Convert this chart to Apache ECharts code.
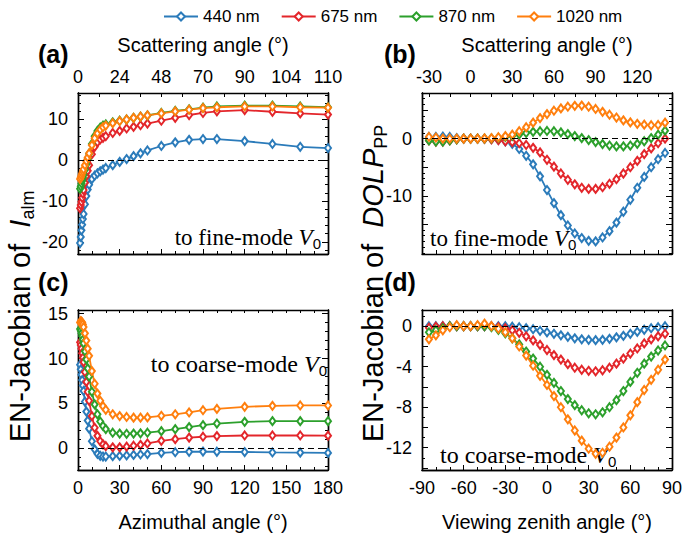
<!DOCTYPE html>
<html><head><meta charset="utf-8">
<script src="https://cdn.jsdelivr.net/npm/echarts@6/dist/echarts.min.js"></script>
<style>html,body{margin:0;padding:0;background:#fff}#c{width:687px;height:539px}</style>
</head><body><div id="c"></div>
<script>
// ---------------- DATA ----------------
const NAMES = ['440 nm', '675 nm', '870 nm', '1020 nm'];
const COLORS = ['#2b7bba', '#e3262b', '#2ca02c', '#ff7f0e'];

// azimuthal angles (panels a, c)
const AZ = [1.5, 2, 2.5, 3, 3.5, 4, 5, 6, 7, 8, 10, 12, 14, 16, 18, 20, 25, 30, 35, 40, 45, 50, 60, 70, 80, 90, 100, 120, 140, 160, 180];
// viewing zenith angles (panels b, d)
const VZA = [-85, -80, -75, -70, -65, -60, -55, -50, -45, -40, -35, -30, -25, -20, -15, -10, -5, 0, 5, 10, 15, 20, 25, 30, 35, 40, 45, 50, 55, 60, 65, 70, 75, 80, 85];

// (a) EN-Jacobian of I_alm to fine-mode V0
const A_440  = [-20.3, -18.8, -17.2, -15.8, -14.4, -13.2, -10.8, -8.8, -7.2, -6.0, -4.6, -3.8, -3.2, -2.7, -2.3, -1.9, -1.2, -0.4, 0.3, 1.0, 1.7, 2.4, 3.5, 4.4, 5.0, 5.2, 5.2, 4.7, 4.0, 3.3, 3.0];
const A_675  = [-11.8, -11.0, -10.2, -9.2, -8.2, -7.3, -5.5, -3.9, -2.6, -1.2, 1.5, 3.3, 4.4, 5.1, 5.5, 5.9, 6.7, 7.2, 7.8, 8.2, 8.6, 9.0, 9.7, 10.4, 11.1, 11.6, 12.0, 12.3, 11.9, 11.5, 11.2];
const A_870  = [-7.0, -6.4, -5.7, -5.0, -4.3, -3.6, -2.3, -1.0, 0.3, 1.6, 4.0, 5.9, 7.2, 8.0, 8.5, 8.8, 9.3, 9.7, 10.0, 10.4, 10.7, 11.0, 11.6, 12.1, 12.5, 12.9, 13.2, 13.4, 13.4, 13.2, 13.0];
const A_1020 = [-4.6, -4.2, -3.7, -3.2, -2.7, -2.2, -1.2, -0.2, 0.7, 1.7, 3.7, 5.4, 6.6, 7.5, 8.1, 8.5, 9.1, 9.6, 10.0, 10.4, 10.7, 11.0, 11.5, 12.0, 12.4, 12.8, 13.0, 13.2, 13.2, 13.0, 12.9];

// (c) EN-Jacobian of I_alm to coarse-mode V0
const C_440  = [9.3, 8.8, 8.2, 7.6, 7.0, 6.4, 5.2, 4.1, 3.1, 2.2, 0.8, -0.1, -0.6, -0.82, -0.9, -0.9, -0.86, -0.83, -0.78, -0.72, -0.67, -0.63, -0.5, -0.42, -0.37, -0.35, -0.37, -0.4, -0.45, -0.47, -0.5];
const C_675  = [11.8, 11.5, 11.1, 10.6, 10.1, 9.6, 8.5, 7.4, 6.3, 5.3, 3.6, 2.3, 1.4, 0.8, 0.45, 0.25, 0.12, 0.12, 0.2, 0.3, 0.4, 0.55, 0.85, 1.03, 1.2, 1.3, 1.37, 1.44, 1.44, 1.44, 1.42];
const C_870  = [13.3, 13.1, 12.8, 12.5, 12.1, 11.7, 10.8, 9.9, 8.9, 8.0, 6.3, 4.9, 3.8, 3.0, 2.5, 2.15, 1.75, 1.65, 1.63, 1.65, 1.68, 1.75, 1.92, 2.14, 2.37, 2.59, 2.77, 2.96, 3.03, 3.03, 3.03];
const C_1020 = [14.0, 14.15, 14.1, 14.0, 13.8, 13.5, 12.8, 12.0, 11.1, 10.3, 8.6, 7.2, 6.1, 5.3, 4.7, 4.3, 3.8, 3.6, 3.5, 3.42, 3.42, 3.45, 3.63, 3.8, 4.0, 4.25, 4.4, 4.63, 4.74, 4.78, 4.78];

// (b) EN-Jacobian of DOLP_PP to fine-mode V0
const B_440  = [0.3, 0.3, 0.35, 0.3, 0.1, 0, 0, 0, 0, -0.05, -0.2, -0.45, -0.9, -1.8, -3.0, -4.5, -6.6, -9.0, -11.3, -13.4, -15.2, -16.6, -17.4, -17.9, -18.0, -17.3, -16.2, -14.7, -12.8, -10.7, -8.6, -6.7, -5.0, -3.6, -2.5];
const B_675  = [-0.3, -0.5, -0.5, -0.3, -0.1, 0, 0, 0, -0.05, -0.1, -0.25, -0.45, -0.6, -0.8, -1.1, -1.6, -2.4, -3.7, -4.9, -6.1, -7.2, -8.0, -8.6, -8.8, -8.8, -8.5, -7.9, -7.1, -6.1, -5.0, -3.9, -2.7, -1.7, -0.8, 0.0];
const B_870  = [-0.3, -0.5, -0.5, -0.3, -0.1, 0, 0, 0, 0, 0.05, 0.15, 0.3, 0.5, 0.75, 1.0, 1.2, 1.3, 1.35, 1.3, 1.1, 0.8, 0.45, 0.1, -0.25, -0.6, -0.95, -1.2, -1.35, -1.35, -1.2, -0.9, -0.45, 0.1, 0.7, 1.4];
const B_1020 = [0.3, 0.2, 0, 0, 0, 0, 0, 0, 0.05, 0.1, 0.25, 0.45, 0.7, 1.3, 2.0, 2.8, 3.6, 4.3, 4.9, 5.3, 5.6, 5.75, 5.8, 5.6, 5.2, 4.7, 4.2, 3.7, 3.2, 2.85, 2.6, 2.45, 2.35, 2.4, 2.8];

// (d) EN-Jacobian of DOLP_PP to coarse-mode V0
const D_440  = [0, 0, 0, 0, 0, 0, 0, 0, 0, 0, 0, 0, -0.05, -0.1, -0.2, -0.3, -0.45, -0.6, -0.75, -0.9, -1.05, -1.2, -1.3, -1.35, -1.38, -1.35, -1.25, -1.1, -0.95, -0.75, -0.55, -0.35, -0.2, -0.1, 0];
const D_675  = [-0.15, -0.05, 0, 0, 0, 0, 0, 0, 0, 0, -0.1, -0.2, -0.4, -0.65, -1.0, -1.4, -1.85, -2.35, -2.85, -3.3, -3.75, -4.1, -4.3, -4.4, -4.45, -4.35, -4.1, -3.7, -3.2, -2.7, -2.2, -1.7, -1.3, -1.0, -0.75];
const D_870  = [-0.6, -0.4, -0.2, 0, 0, 0, 0, 0, 0, -0.1, -0.35, -0.7, -1.2, -1.8, -2.5, -3.2, -4.0, -4.8, -5.6, -6.4, -7.2, -7.8, -8.3, -8.6, -8.7, -8.5, -8.0, -7.3, -6.4, -5.5, -4.6, -3.7, -3.0, -2.4, -1.9];
const D_1020 = [-1.3, -0.9, -0.4, -0.1, 0.1, 0, 0, 0.1, 0.25, 0, -0.25, -0.6, -1.2, -2.0, -2.9, -3.9, -4.9, -5.8, -6.9, -8.0, -9.2, -10.3, -11.3, -12.1, -12.6, -12.5, -11.9, -11.0, -10.0, -8.8, -7.5, -6.3, -5.3, -4.3, -3.3];

// tick labels
const AZ_TICKS = [0, 30, 60, 90, 120, 150, 180];
const SCAT_A_LABELS = ['0', '24', '48', '70', '90', '104', '110'];   // at AZ_TICKS
const VZA_TICKS = [-90, -60, -30, 0, 30, 60, 90];
const SCAT_B_POS = [-85, -55, -25, 5, 35, 65];                       // VZA where scattering labels sit
const SCAT_B_LABELS = ['-30', '0', '30', '60', '90', '120'];
const YA_LABELS = [-20, -10, 0, 10];
const YB_LABELS = [-10, 0];
const YC_LABELS = [0, 5, 10, 15];
const YD_LABELS = [-12, -8, -4, 0];

// ---------------- BUILD ----------------
const FONT = "'Liberation Sans', Arial, Helvetica, sans-serif";
const SERIF = "'Liberation Serif', 'Times New Roman', serif";
function steps(a, b, s) { const r = []; for (let v = a; v <= b + 1e-9; v += s) r.push(+v.toFixed(4)); return r; }

const GRIDS = [
  {left: 78, top: 93, width: 250, height: 161},
  {left: 422, top: 93, width: 250, height: 161},
  {left: 78, top: 310, width: 250, height: 160},
  {left: 422, top: 310, width: 250, height: 160}
];
const xAxes = [], yAxes = [];
function axis(list, gi, pos, min, max, ticks, len, labels, fmt, extra) {
  list.push(Object.assign({
    type: 'value', gridIndex: gi, position: pos, min: min, max: max,
    axisLine: {show: true, onZero: false, lineStyle: {color: '#000', width: 1.4}},
    axisTick: {show: true, inside: true, length: len, customValues: ticks, lineStyle: {color: '#000', width: 1}},
    axisLabel: labels ? {show: true, customValues: labels, formatter: fmt, fontSize: 18, color: '#000', fontFamily: FONT, margin: pos === 'top' ? 7 : (pos === 'bottom' ? 9 : 10)} : {show: false},
    splitLine: {show: false}, minorTick: {show: false}
  }, extra || {}));
  return list.length - 1;
}
const idf = v => String(v);
const nameStyle = {fontSize: 20, color: '#000', fontFamily: FONT};

// panel a
const ax_a = axis(xAxes, 0, 'bottom', 0, 180, AZ_TICKS, 5, null);
axis(xAxes, 0, 'bottom', 0, 180, steps(0, 180, 10), 3, null);
axis(xAxes, 0, 'top', 0, 180, steps(0, 180, 15), 4, AZ_TICKS, v => SCAT_A_LABELS[AZ_TICKS.indexOf(v)],
  {name: 'Scattering angle (°)', nameLocation: 'middle', nameGap: 38, nameTextStyle: nameStyle});
const ay_a = axis(yAxes, 0, 'left', -23, 16.5, YA_LABELS, 6, YA_LABELS, idf);
axis(yAxes, 0, 'left', -23, 16.5, steps(-22, 16, 2), 3, null);
axis(yAxes, 0, 'right', -23, 16.5, YA_LABELS, 6, null);
axis(yAxes, 0, 'right', -23, 16.5, steps(-22, 16, 2), 3, null);

// panel b
const ax_b = axis(xAxes, 1, 'bottom', -90, 90, steps(-90, 90, 10), 4, null);
axis(xAxes, 1, 'top', -90, 90, steps(-85, 85, 15), 4, SCAT_B_POS, v => SCAT_B_LABELS[SCAT_B_POS.indexOf(v)],
  {name: 'Scattering angle (°)', nameLocation: 'middle', nameGap: 38, nameTextStyle: nameStyle});
const ay_b = axis(yAxes, 1, 'left', -20.2, 8, steps(-15, 5, 5), 6, YB_LABELS, idf);
axis(yAxes, 1, 'left', -20.2, 8, steps(-20, 8, 1), 3, null);
axis(yAxes, 1, 'right', -20.2, 8, steps(-15, 5, 5), 6, null);
axis(yAxes, 1, 'right', -20.2, 8, steps(-20, 8, 1), 3, null);

// panel c
const ax_c = axis(xAxes, 2, 'bottom', 0, 180, AZ_TICKS, 5, AZ_TICKS, idf,
  {name: 'Azimuthal angle (°)', nameLocation: 'middle', nameGap: 42, nameTextStyle: nameStyle});
axis(xAxes, 2, 'bottom', 0, 180, steps(0, 180, 10), 3, null);
axis(xAxes, 2, 'top', 0, 180, steps(0, 180, 10), 3, null);
const ay_c = axis(yAxes, 2, 'left', -2.4, 15.4, YC_LABELS, 6, YC_LABELS, idf);
axis(yAxes, 2, 'left', -2.4, 15.4, steps(-2, 15, 1), 3, null);
axis(yAxes, 2, 'right', -2.4, 15.4, YC_LABELS, 6, null);
axis(yAxes, 2, 'right', -2.4, 15.4, steps(-2, 15, 1), 3, null);

// panel d
const ax_d = axis(xAxes, 3, 'bottom', -90, 90, VZA_TICKS, 5, VZA_TICKS, idf,
  {name: 'Viewing zenith angle (°)', nameLocation: 'middle', nameGap: 42, nameTextStyle: nameStyle});
axis(xAxes, 3, 'bottom', -90, 90, steps(-90, 90, 10), 3, null);
axis(xAxes, 3, 'top', -90, 90, steps(-90, 90, 10), 3, null);
const ay_d = axis(yAxes, 3, 'left', -14.2, 1.6, steps(-14, 0, 2), 6, YD_LABELS, idf);
axis(yAxes, 3, 'left', -14.2, 1.6, steps(-14, 1, 1), 3, null);
axis(yAxes, 3, 'right', -14.2, 1.6, steps(-14, 0, 2), 6, null);
axis(yAxes, 3, 'right', -14.2, 1.6, steps(-14, 1, 1), 3, null);

function panel(xi, yi, X, arrs) {
  return arrs.map((vals, k) => {
    const s = {
      name: NAMES[k], type: 'line', xAxisIndex: xi, yAxisIndex: yi,
      data: X.map((x, i) => [x, vals[i]]),
      symbol: 'emptyDiamond', symbolSize: [6, 8], showSymbol: true,
      lineStyle: {color: COLORS[k], width: 1.8},
      itemStyle: {color: COLORS[k], borderWidth: 1.1},
      animation: false, silent: true
    };
    if (k === 0) s.markLine = {
      silent: true, symbol: ['none', 'none'], label: {show: false}, animation: false,
      lineStyle: {color: '#000', type: [6, 4], width: 1},
      data: [{yAxis: 0}]
    };
    return s;
  });
}
const series = [].concat(
  panel(ax_a, ay_a, AZ, [A_440, A_675, A_870, A_1020]),
  panel(ax_b, ay_b, VZA, [B_440, B_675, B_870, B_1020]),
  panel(ax_c, ay_c, AZ, [C_440, C_675, C_870, C_1020]),
  panel(ax_d, ay_d, VZA, [D_440, D_675, D_870, D_1020])
);

function label(x, y, t) {
  return {type: 'text', x: x, y: y, style: {text: t, fontSize: 25, fontWeight: 'bold', fontFamily: FONT, fill: '#000', align: 'left', verticalAlign: 'middle'}};
}
function annot(x, y, t, align, fs) {
  return {type: 'text', x: x, y: y, style: {
    text: t + ' {v|V}{s|0}', fontSize: fs, fontFamily: SERIF, fill: '#000', align: align, verticalAlign: 'middle', lineHeight: 28,
    rich: {v: {fontSize: fs, fontStyle: 'italic', fontFamily: SERIF, lineHeight: 28},
           s: {fontSize: 15, fontFamily: FONT, verticalAlign: 'bottom', lineHeight: 17}}
  }};
}
function ytitle(x, y, main, sub) {
  return {type: 'text', x: x, y: y, rotation: Math.PI / 2, style: {
    text: 'EN-Jacobian of  {i|' + main + '}{s|' + sub + '}', fontSize: 29, fontFamily: FONT, fill: '#000',
    align: 'left', verticalAlign: 'middle', lineHeight: 34,
    rich: {i: {fontSize: 29, fontStyle: 'italic', fontFamily: FONT, lineHeight: 34},
           s: {fontSize: 18, fontFamily: FONT, verticalAlign: 'bottom', lineHeight: 22}}
  }};
}

const option = {
  backgroundColor: '#fff',
  animation: false,
  textStyle: {fontFamily: FONT},
  legend: {
    data: NAMES, left: 158, top: 3, itemWidth: 34, itemHeight: 10, itemGap: 21,
    textStyle: {fontSize: 17, fontFamily: FONT, color: '#000'}
  },
  grid: GRIDS,
  xAxis: xAxes,
  yAxis: yAxes,
  series: series,
  graphic: [
    label(38, 54, '(a)'), label(384, 54, '(b)'), label(38, 282, '(c)'), label(384, 282, '(d)'),
    annot(321, 237, 'to fine-mode', 'right', 23),
    annot(430, 238, 'to fine-mode', 'left', 23),
    annot(327, 364, 'to coarse-mode', 'right', 24),
    annot(440, 455, 'to coarse-mode', 'left', 24),
    ytitle(20, 442, 'I', 'alm'),
    ytitle(373, 442, 'DOLP', 'PP')
  ]
};
const chart = echarts.init(document.getElementById('c'), null, {renderer: 'svg'});
chart.setOption(option);
</script></body></html>
